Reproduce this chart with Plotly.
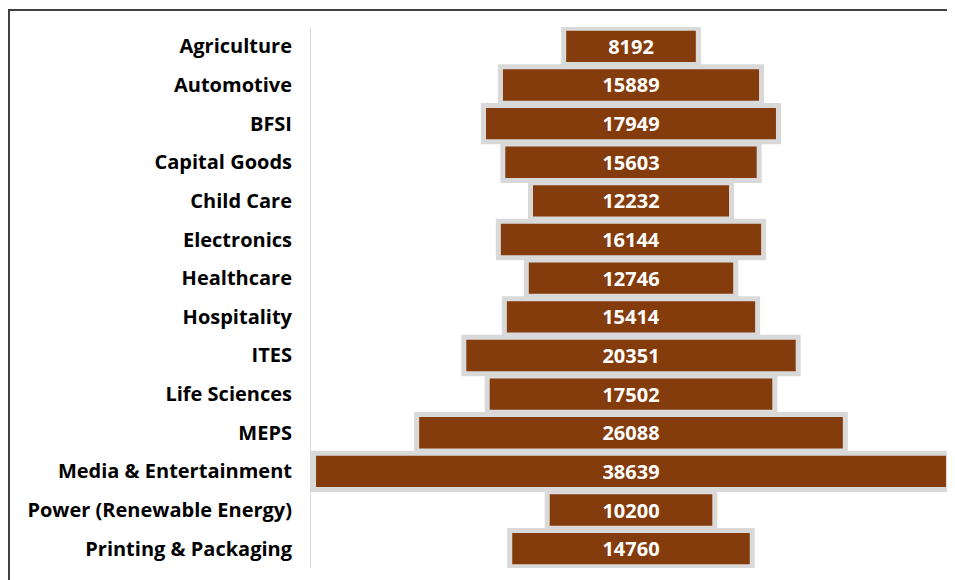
import plotly.graph_objects as go

categories = ["Agriculture", "Automotive", "BFSI", "Capital Goods", "Child Care",
              "Electronics", "Healthcare", "Hospitality", "ITES", "Life Sciences",
              "MEPS", "Media & Entertainment", "Power (Renewable Energy)",
              "Printing & Packaging"]
values = [8192, 15889, 17949, 15603, 12232, 16144, 12746, 15414, 20351, 17502,
          26088, 38639, 10200, 14760]

# page body has an 8px margin; size the figure in page pixels
OFF = 8
W, H = 955 - OFF, 580 - OFF
ML, MR, MT, MB = 311 - OFF, 4, 27 - OFF, 12
pw, ph = W - ML - MR, H - MT - MB

def px_to_paper_x(px):
    return (px - ML) / pw

def px_to_paper_y(py):
    return 1 - (py - MT) / ph

FONT = "Open Sans"

fig = go.Figure(go.Funnel(
    y=categories,
    x=values,
    texttemplate="%{x:d}",
    textposition="inside",
    insidetextanchor="middle",
    textfont=dict(color="white", size=20, family=FONT, weight="bold"),
    marker=dict(color="#843c0c", line=dict(color="#d9d9d9", width=5)),
    connector=dict(visible=False),
    hoverinfo="y+x",
))

m = max(values)
fig.update_layout(
    width=W, height=H,
    margin=dict(l=ML, r=MR, t=MT, b=MB),
    paper_bgcolor="white", plot_bgcolor="white",
    funnelgap=0.06,
    showlegend=False,
    xaxis=dict(visible=False, range=[-m / 2 * 1.008, m / 2 * 1.008]),
    yaxis=dict(showline=True, linecolor="#d9d9d9", linewidth=1,
               showgrid=False, ticks="", ticklabelstandoff=14,
               tickfont=dict(size=20, family=FONT, color="black", weight="bold")),
    font=dict(family=FONT),
    shapes=[dict(type="rect", xref="paper", yref="paper",
                 x0=px_to_paper_x(1), x1=px_to_paper_x(1100),
                 y0=px_to_paper_y(700), y1=px_to_paper_y(2),
                 line=dict(color="#404040", width=2), fillcolor="rgba(0,0,0,0)",
                 layer="above")],
)

fig.write_html("out.html")
